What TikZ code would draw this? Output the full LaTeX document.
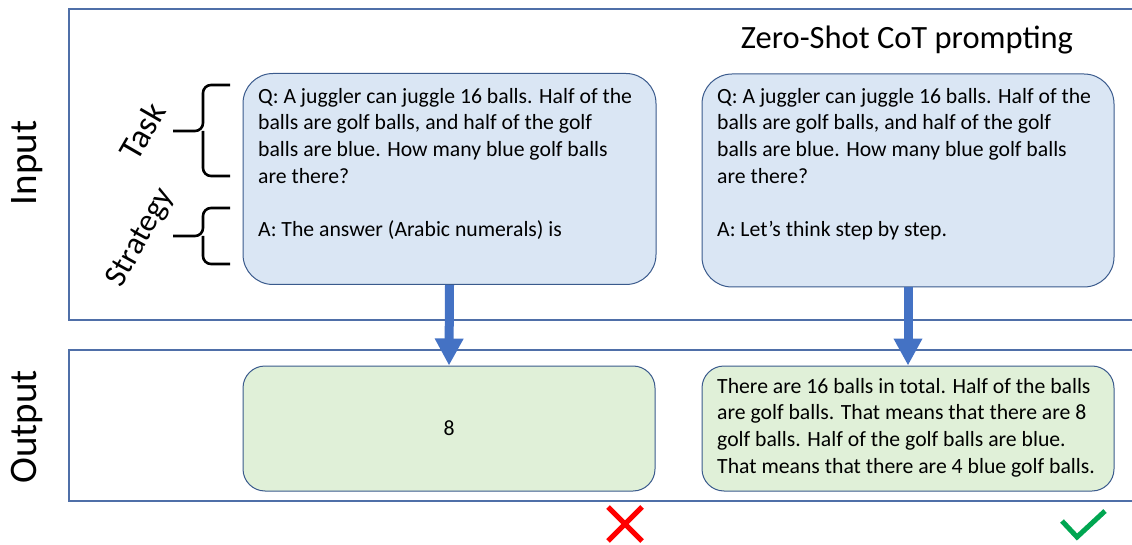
\documentclass[tikz,border=0pt]{standalone}
\usepackage{fontspec}
\setmainfont{Carlito}
\usetikzlibrary{arrows.meta}
\definecolor{frameblue}{HTML}{4F6FA8}
\definecolor{boxborder}{HTML}{3A5A8C}
\definecolor{bluefill}{HTML}{DAE6F4}
\definecolor{greenfill}{HTML}{E0F0D8}
\definecolor{arrowblue}{HTML}{4472C4}
\definecolor{checkgreen}{HTML}{00A651}
\tikzset{
  frame/.style={draw=frameblue, line width=1.2pt},
  qbox/.style={draw=boxborder, fill=bluefill, line width=1pt, rounded corners=30pt},
  abox/.style={draw=boxborder, fill=greenfill, line width=1pt, rounded corners=22pt},
  body/.style={font=\fontsize{21.7}{26.7}\selectfont, align=left, anchor=north west, inner sep=0pt},
  bigarrow/.style={draw=arrowblue, line width=9pt, -{Triangle[width=27pt,length=27pt]}},
  bracestyle/.style={draw=black, line width=2.6pt, rounded corners=8pt},
  sidelabel/.style={font=\fontsize{39}{44}\selectfont, rotate=90},
  bracelabel/.style={inner sep=0pt}
}
\begin{document}
\begin{tikzpicture}[x=1pt,y=-1pt]
\useasboundingbox (0,0) rectangle (1132,545);
% frames
\draw[frame] (1134,9) -- (69,9) -- (69,320) -- (1134,320);
\draw[frame] (1134,350) -- (69,350) -- (69,501) -- (1134,501);
\node[sidelabel] (inlabel) at (27,163) {Input};
\node[sidelabel] (outlabel) at (27,427) {Output};
% title
\node[font=\fontsize{32.5}{38}\selectfont] (title) at (907,40) {Zero-Shot CoT prompting};
% input boxes
\node[qbox, minimum width=413pt, minimum height=211pt, inner sep=0pt] (q1) at (449.5,179) {};
\node[qbox, minimum width=412pt, minimum height=213pt, inner sep=0pt] (q2) at (908,180.5) {};
\node[body] (q1t) at (258,88) {Q: A juggler can juggle 16 balls. Half of the\\balls are golf balls, and half of the golf\\balls are blue. How many blue golf balls\\are there?\\[26.7pt]A: The answer (Arabic numerals) is};
\node[body] (q2t) at (717,88) {Q: A juggler can juggle 16 balls. Half of the\\balls are golf balls, and half of the golf\\balls are blue. How many blue golf balls\\are there?\\[26.7pt]A: Let’s think step by step.};
% output boxes
\node[abox, minimum width=412pt, minimum height=125pt, inner sep=0pt] (o1) at (449,428.5) {};
\node[abox, minimum width=412pt, minimum height=125pt, inner sep=0pt] (o2) at (908,428.5) {};
\node[font=\fontsize{21.7}{26}\selectfont] (o1t) at (449,428) {8};
\node[body] (o2t) at (717,378) {There are 16 balls in total. Half of the balls\\are golf balls. That means that there are 8\\golf balls. Half of the golf balls are blue.\\That means that there are 4 blue golf balls.};
% arrows
\draw[bigarrow] (q1.south) -- (o1.north);
\draw[bigarrow] (q2.south) -- (o2.north);
% braces
\coordinate (tasktip) at (173,131);
\coordinate (strattip) at (173,236);
\draw[bracestyle] (230,85) -- (203,85) -- (203,131) -- (tasktip);
\draw[bracestyle] (230,176) -- (203,176) -- (203,131);
\draw[bracestyle] (230,208) -- (203,208) -- (203,236) -- (strattip);
\draw[bracestyle] (230,264) -- (203,264) -- (203,236);
\node[bracelabel, font=\fontsize{34}{38}\selectfont, rotate=60] (tasklabel) at (142,131) {Task};
\node[bracelabel, font=\fontsize{32}{36}\selectfont, rotate=61] (stratlabel) at (141,238) {Strategy};
% marks
\coordinate (x1) at (608,507);
\coordinate (x2) at (642,541);
\coordinate (x3) at (642,507);
\coordinate (x4) at (608,541);
\draw[red, line width=5pt] (x1) -- (x2);
\draw[red, line width=5pt] (x3) -- (x4);
\coordinate (c1) at (1062,521);
\coordinate (c2) at (1077,537);
\coordinate (c3) at (1105,511);
\draw[checkgreen, line width=5pt] (c1) -- (c2) -- (c3);
\end{tikzpicture}
\end{document}
